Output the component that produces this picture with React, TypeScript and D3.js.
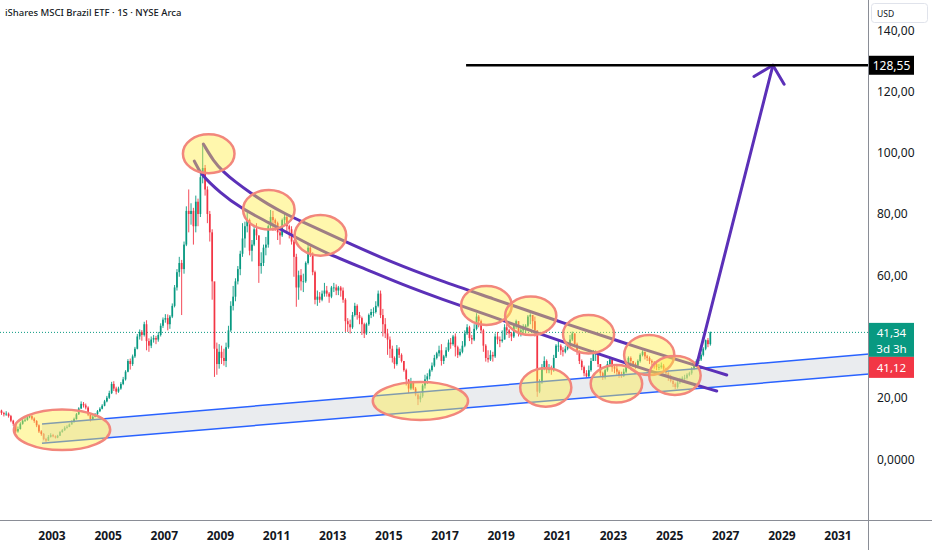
import React from "react";
import * as d3 from "d3";

// ---------- DATA ----------
const startYear = 2001; // first monthly candle: Jan 2001
const firstOpen = 15.2;

const closes: number[] = [
  // 2001
  15.5, 15.8, 15.0, 14.6, 14.8, 14.0, 12.5, 11.5, 9.0, 9.8, 11.5, 12.5,
  // 2002
  12.8, 13.6, 14.0, 13.2, 12.4, 11.0, 9.0, 8.2, 6.5, 6.0, 7.2, 7.8,
  // 2003
  7.4, 7.0, 7.6, 8.8, 9.4, 10.2, 10.5, 11.3, 12.0, 13.0, 14.6, 16.5,
  // 2004
  18.0, 17.5, 16.8, 14.5, 13.0, 13.8, 14.6, 15.6, 16.4, 17.4, 18.8, 20.0,
  // 2005
  21.5, 24.5, 23.0, 22.0, 23.0, 24.5, 26.0, 28.5, 32.0, 31.0, 33.5, 36.0,
  // 2006
  40.0, 41.5, 40.5, 44.0, 38.5, 37.0, 39.0, 39.5, 39.0, 40.5, 43.5, 45.5,
  // 2007
  46.0, 44.0, 46.5, 50.0, 56.0, 61.0, 64.0, 62.0, 70.0, 81.0, 80.0, 81.0,
  // 2008
  76.0, 84.0, 80.0, 92.0, 95.0, 88.0, 80.0, 74.0, 58.0, 36.0, 31.0, 35.0,
  // 2009
  33.0, 32.0, 36.5, 42.0, 50.0, 53.0, 58.0, 62.0, 67.0, 72.0, 76.0, 78.0,
  // 2010
  68, 70, 75, 73, 63, 64, 69, 70, 76, 79, 78, 77,
  // 2011
  74, 73, 78, 79, 76, 75, 71, 66, 56, 60, 58, 58,
  // 2012
  64, 69, 67, 61, 52, 53, 52, 54, 55, 54, 53, 56,
  // 2013
  56, 55, 56, 55, 52, 45, 44, 43, 47, 50, 47, 46,
  // 2014
  44, 41, 44, 47, 48, 48, 50, 54, 47, 44, 41, 39,
  // 2015
  36, 33, 31, 36, 34, 32, 29, 26, 23, 25, 23, 21,
  // 2016
  19.5, 20.5, 24.0, 26.0, 27.0, 29.0, 30.5, 33.0, 34.5, 35.5, 32.0, 33.5,
  // 2017
  35.5, 38.0, 37.5, 40.0, 36.5, 34.0, 35.0, 37.0, 41.0, 43.0, 39.5, 39.0,
  // 2018
  42.5, 46.5, 45.0, 42.0, 37.0, 33.0, 32.5, 34.0, 33.5, 40.0, 39.0, 38.5,
  // 2019
  39.0, 43.0, 42.0, 41.0, 40.0, 43.5, 45.0, 41.5, 42.0, 43.0, 43.5, 46.5,
  // 2020
  47, 45, 42, 22, 25, 30, 32, 29, 29.5, 29, 33, 37,
  // 2021
  37, 35.5, 35, 36, 37, 39, 41, 37.5, 35, 32, 30, 28,
  // 2022
  27, 29, 32, 34.5, 35, 31, 28, 26.5, 29, 31, 32.5, 30,
  // 2023
  29.5, 28.5, 27.5, 27, 28.5, 31, 33, 32, 31, 30.5, 32, 34,
  // 2024
  35, 33.5, 33, 32, 31.5, 31, 30, 30, 30.5, 29.5, 28, 27,
  // 2025
  25.5, 24.5, 23.5, 25, 25.5, 26.5, 26.5, 27.5, 28, 29.5, 30.5, 32,
  // 2026
  32.5, 34, 36, 38.8, 37.5, 41.34,
];

const highs: number[] = [
  16.3, 16.6, 16.1, 15.4, 15.6, 15.2, 14.4, 12.8, 11.8, 10.6, 12.0, 13.2,
  13.6, 14.2, 14.6, 14.3, 13.6, 12.7, 11.3, 9.4, 8.5, 6.9, 7.8, 8.4,
  8.2, 7.7, 7.9, 9.1, 9.8, 10.7, 11.0, 11.6, 12.6, 13.5, 15.0, 16.9,
  18.8, 18.6, 18.1, 17.2, 14.9, 14.3, 15.0, 16.0, 16.9, 17.9, 19.3, 20.6,
  22.3, 25.2, 25.4, 23.6, 23.6, 25.1, 26.8, 29.0, 32.6, 32.8, 34.1, 36.6,
  40.8, 42.3, 42.1, 44.8, 45.3, 39.4, 40.0, 40.5, 40.2, 41.5, 44.3, 46.2,
  47.3, 47.2, 47.0, 50.8, 56.8, 62.0, 66.0, 65.0, 71.0, 82.5, 88.0, 83.5,
  82.0, 86.0, 85.0, 93.0, 102.8, 96.0, 89.0, 81.0, 75.0, 57.0, 38.0, 37.5,
  37.0, 36.0, 38.0, 43.5, 51.5, 56.5, 59.0, 63.0, 68.0, 77.0, 77.5, 80.5,
  78.5, 71.5, 76.0, 77.0, 73.0, 67.5, 70.0, 72.5, 76.5, 81.3, 81.0, 78.5,
  77.5, 75.0, 78.5, 80.0, 79.5, 76.5, 76.0, 71.5, 67.0, 61.5, 62.0, 60.5,
  64.5, 70.5, 70.0, 67.5, 61.5, 55.0, 54.5, 55.0, 57.5, 56.5, 54.5, 56.5,
  57.5, 57.0, 56.5, 56.5, 56.0, 52.5, 46.0, 45.5, 48.0, 51.0, 50.5, 48.0,
  46.5, 44.5, 44.5, 47.5, 49.0, 49.5, 51.5, 55.0, 55.0, 49.0, 46.0, 42.5,
  40.0, 37.0, 33.5, 37.2, 36.5, 34.5, 32.0, 29.5, 26.0, 26.5, 25.5, 23.5,
  21.5, 21.5, 24.5, 27.5, 28.0, 29.5, 31.5, 34.0, 35.0, 37.0, 37.5, 34.0,
  36.5, 39.0, 39.5, 40.5, 41.0, 37.0, 36.0, 38.5, 42.0, 44.0, 43.5, 40.5,
  44.0, 47.6, 47.0, 45.5, 42.5, 37.5, 35.5, 35.5, 35.0, 41.0, 41.5, 40.0,
  42.0, 44.0, 44.0, 42.5, 41.5, 44.0, 45.5, 45.0, 43.0, 44.0, 44.0, 47.0,
  47.6, 47.0, 46.5, 42.0, 26.0, 31.0, 33.5, 32.5, 31.0, 30.5, 34.0, 37.5,
  38.5, 37.5, 36.5, 37.0, 38.0, 40.5, 41.6, 41.0, 38.0, 35.5, 32.5, 30.5,
  29.0, 30.5, 33.0, 35.6, 35.5, 35.0, 31.0, 28.5, 29.5, 32.0, 33.4, 32.5,
  31.0, 30.5, 29.0, 28.5, 29.5, 31.5, 33.5, 33.5, 32.0, 31.5, 32.5, 34.5,
  35.5, 35.0, 34.0, 33.5, 32.5, 32.0, 31.5, 31.0, 31.5, 31.0, 29.8, 28.5,
  27.5, 26.0, 25.0, 25.5, 26.5, 27.0, 27.5, 28.0, 28.5, 30.0, 31.0, 32.5,
  33.5, 34.5, 36.5, 39.0, 39.5, 41.6,
];

const lows: number[] = [
  14.8, 15.0, 14.4, 13.9, 14.1, 13.5, 12.0, 10.8, 8.4, 8.6, 9.6, 11.2,
  12.1, 12.5, 13.3, 12.7, 11.8, 10.4, 8.5, 7.6, 6.1, 5.5, 5.9, 7.0,
  7.1, 6.7, 6.8, 7.5, 8.6, 9.2, 9.9, 10.4, 11.2, 11.9, 12.9, 14.4,
  16.3, 16.8, 16.2, 14.0, 12.2, 12.8, 13.6, 14.4, 15.3, 16.2, 17.2, 18.5,
  19.6, 21.2, 22.2, 21.1, 21.6, 22.6, 24.1, 25.6, 28.3, 29.2, 30.4, 33.0,
  35.8, 39.0, 38.6, 40.0, 35.5, 35.0, 36.2, 38.0, 37.5, 38.3, 40.0, 42.8,
  44.5, 42.0, 42.5, 46.0, 49.5, 55.0, 59.5, 47.0, 60.5, 69.5, 74.0, 76.5,
  70.0, 74.0, 76.0, 79.0, 90.0, 86.0, 77.0, 71.0, 52.0, 26.8, 27.5, 29.5,
  31.0, 30.5, 30.0, 36.0, 41.5, 48.5, 51.5, 57.0, 60.0, 66.0, 69.0, 74.0,
  66.5, 64.5, 69.5, 71.5, 57.5, 60.5, 63.0, 66.5, 69.0, 75.0, 74.5, 74.5,
  71.5, 70.0, 72.5, 76.5, 73.5, 72.0, 70.0, 59.5, 49.7, 52.0, 55.0, 54.5,
  57.5, 63.5, 66.0, 60.0, 50.5, 50.0, 51.0, 51.5, 53.0, 53.0, 51.0, 52.5,
  54.5, 53.5, 53.5, 53.0, 51.0, 41.5, 41.5, 41.0, 42.5, 46.5, 45.5, 44.0,
  40.5, 39.5, 40.5, 43.5, 46.0, 46.5, 47.5, 49.5, 46.0, 40.0, 39.5, 34.0,
  33.0, 31.5, 29.5, 30.5, 33.0, 31.5, 28.5, 24.0, 21.5, 22.5, 22.5, 20.5,
  17.6, 18.5, 20.0, 23.0, 24.5, 26.0, 28.5, 30.0, 32.5, 33.5, 30.5, 31.0,
  33.0, 35.0, 36.0, 37.0, 33.5, 33.0, 33.5, 34.5, 36.5, 40.5, 38.5, 37.5,
  38.5, 42.0, 43.0, 41.0, 35.0, 31.8, 31.5, 32.0, 31.8, 33.0, 37.5, 36.5,
  38.0, 39.0, 40.5, 39.5, 38.5, 39.5, 42.5, 40.0, 40.0, 41.0, 41.0, 43.0,
  44.0, 42.5, 40.0, 20.3, 21.5, 24.5, 29.0, 28.0, 28.0, 27.5, 28.5, 33.0,
  35.0, 34.0, 33.5, 34.5, 35.5, 36.5, 38.5, 36.5, 34.0, 31.0, 29.0, 27.0,
  26.5, 26.8, 28.5, 32.0, 32.0, 30.0, 27.0, 25.8, 26.0, 28.5, 30.0, 28.5,
  28.0, 27.5, 26.5, 26.5, 26.8, 28.0, 30.5, 31.0, 30.0, 29.5, 30.0, 31.5,
  33.5, 32.5, 32.0, 31.0, 30.5, 29.5, 29.0, 29.0, 29.5, 28.5, 27.0, 25.5,
  25.0, 23.5, 22.8, 23.0, 24.5, 25.0, 25.8, 26.0, 27.0, 27.5, 29.0, 30.0,
  31.0, 32.0, 33.5, 35.5, 36.5, 37.0,
];

const xTickYears = [2003, 2005, 2007, 2009, 2011, 2013, 2015, 2017, 2019, 2021, 2023, 2025, 2027, 2029, 2031];
// 40,00 is hidden behind the price labels in the reference
const yTicks = [0, 20, 60, 80, 100, 120, 140];
const yTickLabels = ["0,0000", "20,00", "60,00", "80,00", "100,00", "120,00", "140,00"];

const title = "iShares MSCI Brazil ETF · 1S · NYSE Arca";
const lastPrice = 41.34;
const lastPriceLabel = "41,34";
const countdownLabel = "3d 3h";
const secondPriceLabel = "41,12";
const targetPrice = 128.55;
const targetLabel = "128,55";
const targetLineStartYear = 2017.75;

// Annotations, in [fractional year, price]
const upperCurve: [number, number][] = [
  [2008.393, 102.84], [2008.75, 97.29], [2009.107, 93.7], [2009.536, 90.43],
  [2010.071, 86.84], [2010.679, 83.25], [2011.321, 79.99], [2011.857, 77.7],
  [2013.393, 71.17], [2015.071, 64.32], [2016.857, 58.11], [2018.643, 52.56],
  [2020.893, 45.38], [2023.286, 38.2], [2024.714, 33.95], [2027.036, 27.42],
];
const lowerCurve: [number, number][] = [
  [2008.071, 97.29], [2008.286, 93.05], [2009.0, 86.84], [2009.714, 81.95],
  [2010.679, 77.38], [2011.857, 71.5], [2012.679, 67.58], [2014.25, 61.7],
  [2015.429, 57.13], [2016.857, 52.24], [2018.643, 46.69], [2020.179, 41.46],
  [2022.679, 33.63], [2024.714, 27.42], [2026.679, 22.2],
];
const channelUpper: [number, number][] = [[2002.643, 11.43], [2032.143, 34.28]];
const channelLower: [number, number][] = [[2002.643, 5.13], [2032.143, 27.75]];
const arrowStart: [number, number] = [2025.964, 30.69];
const arrowTip: [number, number] = [2028.68, 128.55];

// ellipses: [center year, center price, half-width (years), half-height (price)]
const ellipses: [number, number, number, number][] = [
  [2008.582, 99.64, 0.918, 6.37],
  [2010.725, 81.39, 0.918, 6.43],
  [2012.561, 73.03, 0.918, 6.63],
  [2016.125, 18.94, 1.696, 6.2],
  [2003.357, 9.57, 1.714, 6.63],
  [2018.475, 50.11, 0.904, 6.37],
  [2020.054, 46.75, 0.911, 6.27],
  [2020.589, 23.34, 0.911, 6.27],
  [2022.114, 40.74, 0.911, 6.27],
  [2023.107, 24.55, 0.918, 6.14],
  [2024.275, 33.95, 0.893, 6.53],
  [2025.189, 27.26, 0.918, 6.37],
];

// ---------- LAYOUT ----------
const W = 932;
const H = 550;
const plotRight = 868.5;
const plotBottom = 520;

const UP = "#089981";
const DOWN = "#f23645";
const PURPLE = "#5b30b8";
const BLUE = "#2962ff";
const TEXT = "#131722";
const FONT = "'Noto Sans', 'Open Sans', Roboto, sans-serif";

const fy = (y: number) => {
  const base = Math.floor(y);
  const t0 = new Date(base, 0, 1).getTime();
  const t1 = new Date(base + 1, 0, 1).getTime();
  return new Date(t0 + (y - base) * (t1 - t0));
};

export default function App() {
  const x = d3.scaleTime().domain([new Date(2003, 0, 1), new Date(2031, 0, 1)]).range([52, 838]);
  const y = d3.scaleLinear().domain([0, 140]).range([459, 30.2]);
  const px = (p: [number, number]) => x(fy(p[0]));
  const py = (p: [number, number]) => y(p[1]);

  const candles = closes.map((c, i) => {
    const o = i === 0 ? firstOpen : closes[i - 1];
    const date = new Date(startYear + Math.floor(i / 12), i % 12, 15);
    return { date, o, c, h: highs[i], l: lows[i] };
  });

  const curveLine = d3
    .line<[number, number]>()
    .x((p) => px(p))
    .y((p) => py(p))
    .curve(d3.curveBasis);

  const channelPoly = [channelUpper[0], channelUpper[1], channelLower[1], channelLower[0]]
    .map((p) => `${px(p)},${py(p)}`)
    .join(" ");

  // arrow geometry
  const ax0 = px(arrowStart), ay0 = py(arrowStart);
  const ax1 = px(arrowTip), ay1 = py(arrowTip);
  const ang = Math.atan2(ay0 - ay1, ax0 - ax1);
  const wl = 22;
  const wing1 = [ax1 + wl * Math.cos(ang + Math.PI / 4), ay1 + wl * Math.sin(ang + Math.PI / 4)];
  const wing2 = [ax1 + wl * Math.cos(ang - Math.PI / 4), ay1 + wl * Math.sin(ang - Math.PI / 4)];

  const lastY = y(lastPrice);
  const targetY = y(targetPrice);

  return (
    <svg
      width={W}
      height={H}
      style={{ position: "absolute", left: 0, top: 0, background: "#ffffff" }}
      fontFamily={FONT}
    >
      <defs>
        <clipPath id="plot">
          <rect x={0} y={0} width={plotRight} height={plotBottom} />
        </clipPath>
      </defs>
      <rect x={0} y={0} width={W} height={H} fill="#ffffff" />

      <g clipPath="url(#plot)">
        {/* last price dotted line */}
        <line x1={0} x2={plotRight} y1={lastY} y2={lastY} stroke={UP} strokeWidth={1} strokeDasharray="1,2" />

        {/* candles */}
        {candles.map((k, i) => {
          const cx = x(k.date);
          const up = k.c >= k.o;
          const col = up ? UP : DOWN;
          const top = y(Math.max(k.o, k.c));
          const bot = y(Math.min(k.o, k.c));
          return (
            <g key={i}>
              <line x1={cx} x2={cx} y1={y(k.h)} y2={y(k.l)} stroke={col} strokeWidth={0.9} />
              <rect x={cx - 0.85} y={top} width={1.7} height={Math.max(0.8, bot - top)} fill={col} />
            </g>
          );
        })}

        {/* channel */}
        <polygon points={channelPoly} fill="#d1d4dc" fillOpacity={0.45} />
        <line x1={px(channelUpper[0])} y1={py(channelUpper[0])} x2={px(channelUpper[1])} y2={py(channelUpper[1])} stroke={BLUE} strokeWidth={1.5} />
        <line x1={px(channelLower[0])} y1={py(channelLower[0])} x2={px(channelLower[1])} y2={py(channelLower[1])} stroke={BLUE} strokeWidth={1.5} />

        {/* curves */}
        <path d={curveLine(upperCurve) || ""} fill="none" stroke={PURPLE} strokeWidth={3} strokeLinecap="round" />
        <path d={curveLine(lowerCurve) || ""} fill="none" stroke={PURPLE} strokeWidth={3} strokeLinecap="round" />

        {/* ellipses */}
        {ellipses.map((e, i) => {
          const cx = x(fy(e[0]));
          const cy = y(e[1]);
          const rx = x(fy(e[0] + e[2])) - cx;
          const ry = y(e[1] - e[3]) - cy;
          return (
            <ellipse key={i} cx={cx} cy={cy} rx={rx} ry={ry} fill="#ffeb3b" fillOpacity={0.42} stroke="#f2877c" strokeWidth={2.5} />
          );
        })}

        {/* arrow */}
        <line x1={ax0} y1={ay0} x2={ax1} y2={ay1} stroke={PURPLE} strokeWidth={3} strokeLinecap="round" />
        <polyline points={`${wing1[0]},${wing1[1]} ${ax1},${ay1} ${wing2[0]},${wing2[1]}`} fill="none" stroke={PURPLE} strokeWidth={3} strokeLinecap="round" strokeLinejoin="round" />

        {/* target line */}
        <line x1={x(fy(targetLineStartYear))} x2={plotRight} y1={targetY} y2={targetY} stroke="#000000" strokeWidth={2.5} />
      </g>

      {/* title */}
      <text x={5} y={16} fontSize={9.5} fontWeight={500} fill={TEXT}>{title}</text>

      {/* axes lines */}
      <line x1={plotRight} x2={plotRight} y1={0} y2={H} stroke="#8a8d96" strokeWidth={1} />
      <line x1={0} x2={W} y1={plotBottom + 0.5} y2={plotBottom + 0.5} stroke="#8a8d96" strokeWidth={1} />

      {/* y tick labels */}
      {yTicks.map((t, i) => (
        <text key={t} x={877} y={y(t)} dominantBaseline="central" fontSize={12} fill={TEXT}>
          {yTickLabels[i]}
        </text>
      ))}

      {/* x tick labels */}
      {xTickYears.map((yr) => (
        <text key={yr} x={x(new Date(yr, 0, 1))} y={535} textAnchor="middle" dominantBaseline="central" fontSize={12} fontWeight={700} fill={TEXT}>
          {yr}
        </text>
      ))}

      {/* USD box */}
      <rect x={871.5} y={3.5} width={56} height={19} rx={3} fill="#ffffff" stroke="#e0e3eb" />
      <text x={877} y={13.5} dominantBaseline="central" fontSize={8.5} fill={TEXT}>USD</text>

      {/* target label */}
      <rect x={869} y={targetY - 9.5} width={45} height={19} fill="#000000" />
      <text x={891.5} y={targetY} textAnchor="middle" dominantBaseline="central" fontSize={12} fill="#ffffff">{targetLabel}</text>

      {/* last price label */}
      <rect x={869} y={lastY - 9.5} width={45} height={34} fill={UP} />
      <text x={891.5} y={lastY} textAnchor="middle" dominantBaseline="central" fontSize={11.5} fill="#ffffff">{lastPriceLabel}</text>
      <text x={891.5} y={lastY + 16} textAnchor="middle" dominantBaseline="central" fontSize={11.5} fill="#ffffff">{countdownLabel}</text>
      <rect x={869} y={lastY + 24.5} width={45} height={21} fill={DOWN} />
      <text x={891.5} y={lastY + 35} textAnchor="middle" dominantBaseline="central" fontSize={11.5} fill="#ffffff">{secondPriceLabel}</text>
    </svg>
  );
}
